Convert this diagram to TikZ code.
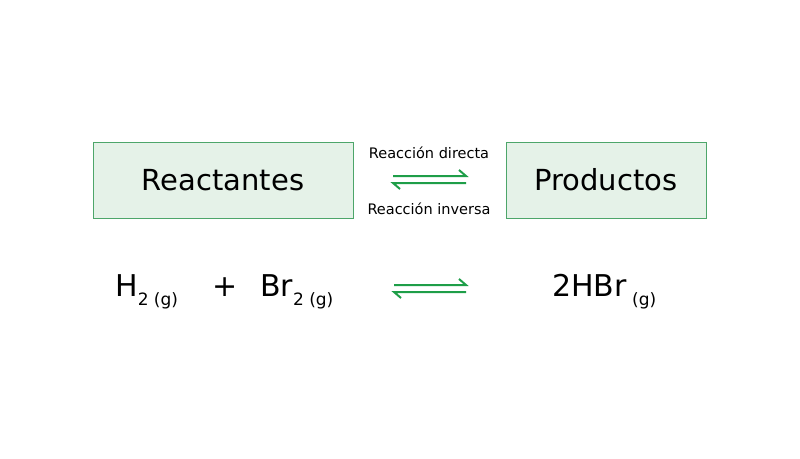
\documentclass[tikz,border=0pt]{standalone}
\usepackage{fontspec}
\setmainfont{DejaVu Sans}
\begin{document}
\begin{tikzpicture}[x=1pt,y=-1pt,
  box/.style={draw=boxline,fill=boxfill,line width=1pt,minimum width=#1,minimum height=76pt,inner sep=0pt,font=\fontsize{29}{29}\selectfont},
  lbl/.style={font=\fontsize{14.5}{14.5}\selectfont,inner sep=0pt},
  eq/.style={font=\fontsize{30}{30}\selectfont,inner sep=0pt,anchor=base west},
  harp/.style={draw=arrowgreen,line width=2pt,line cap=butt}]
\definecolor{boxfill}{HTML}{E5F2E8}
\definecolor{boxline}{HTML}{4DA66A}
\definecolor{arrowgreen}{HTML}{1E9E48}
\useasboundingbox (0,0) rectangle (800,458);
\fill[white] (0,0) rectangle (800,458);
\newcommand{\gsub}[1]{\raisebox{-9pt}{\fontsize{17}{17}\selectfont #1}}
% boxes
\node[box=260pt] (react) at (223,180) {Reactantes};
\node[box=200pt] (prod) at (606,180) {Productos};
% labels
\node[lbl] (dir) at (429,153) {Reacción directa};
\node[lbl] (inv) at (429,209) {Reacción inversa};
% upper equilibrium arrows
\coordinate (t1) at (393,176);
\coordinate (t2) at (466,176);
\coordinate (b1) at (393,183);
\coordinate (b2) at (466,183);
\draw[harp] (t1) -- (t2) -- ++(-7,-6);
\draw[harp] (b2) -- (b1) -- ++(7,6);
% equation
\node[eq] (h2) at (115,296) {H\gsub{2 (g)}};
\node[eq] (plus) at (212,296) {+};
\node[eq] (br2) at (260,296) {Br\gsub{2 (g)}};
\node[eq] (hbr) at (552,296) {2HBr\gsub{ (g)}};
\coordinate (u1) at (394,285);
\coordinate (u2) at (466,285);
\coordinate (l1) at (394,292);
\coordinate (l2) at (466,292);
\draw[harp] (u1) -- (u2) -- ++(-7,-6);
\draw[harp] (l2) -- (l1) -- ++(7,6);
\end{tikzpicture}
\end{document}
